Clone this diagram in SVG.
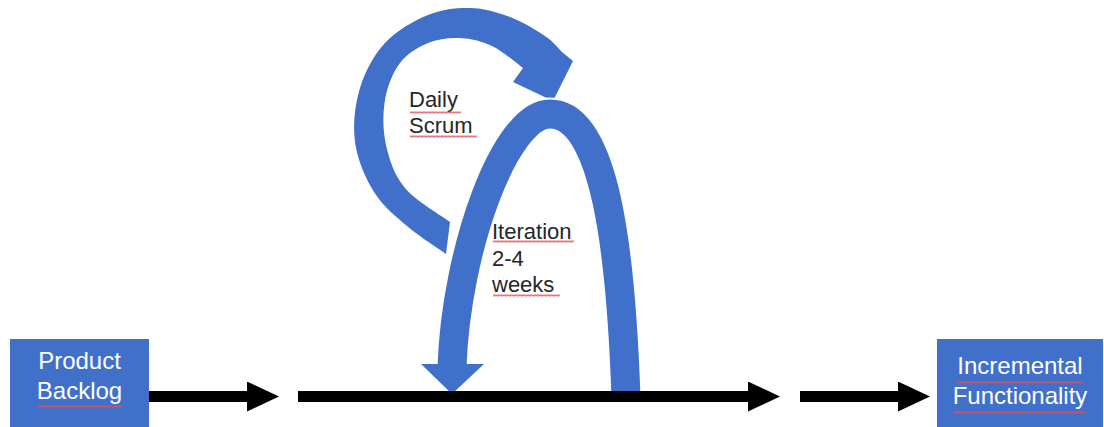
<svg xmlns="http://www.w3.org/2000/svg" width="1104" height="427" viewBox="0 0 1104 427">
  <defs>
    <style>
      .box { fill: #4170CA; }
      .blue { fill: #4170CA; }
      .label-w { font-family: "Liberation Sans", Arial, sans-serif; font-size: 24px; fill: #ffffff; text-anchor: middle; }
      .label-d { font-family: "Liberation Sans", Arial, sans-serif; font-size: 22px; fill: #262626; }
      .flow { stroke: #000000; stroke-width: 11; fill: none; }
      .squig { fill: url(#squiggle); }
    </style>
    <marker id="head" markerUnits="userSpaceOnUse" markerWidth="33" markerHeight="31" refX="2" refY="15" orient="auto">
      <path d="M0,0 L32,15 L0,30 Z" fill="#000000"/>
    </marker>
    <!-- spell-check wave used under words -->
    <pattern id="squiggle" patternUnits="userSpaceOnUse" width="4" height="3">
      <path d="M0,2.5 L1,0.5 L2,2.5 L3,0.5 L4,2.5" fill="none" stroke="#e0505a" stroke-width="0.8"/>
    </pattern>
  </defs>

  <rect width="1104" height="427" fill="#ffffff"/>

  <!-- Daily Scrum circular arrow -->
  <g id="daily-scrum">
    <path class="blue" d="M446,254
      C439.5,249.3 419,236.3 407,226
      C395,215.7 382.7,206 374,192
      C365.3,178 357.3,159.3 355,142
      C352.7,124.7 355,104.5 360,88
      C365,71.5 373.7,55.2 385,43
      C396.3,30.8 413.8,20.8 428,15
      C442.2,9.2 456.3,7.7 470,8
      C483.7,8.3 497.5,12.3 510,17
      C522.5,21.7 536.3,30.2 545,36
      C553.7,41.8 559.2,49.3 562,52
      L573,61 L553,101 L513,82 L523,68
      C517.8,64.3 502.5,51 492,46
      C481.5,41 470.7,38.5 460,38
      C449.3,37.5 438,38.8 428,43
      C418,47.2 407.2,53.5 400,63
      C392.8,72.5 387.3,86.3 385,100
      C382.7,113.7 382.7,130.3 386,145
      C389.3,159.7 394.3,175.2 405,188
      C415.7,200.8 442.5,216.3 450,222 Z"/>
    <text class="label-d" x="409" y="106.5">Daily</text>
    <text class="label-d" x="409" y="132.5">Scrum</text>
    <rect class="squig" x="410" y="111" width="51" height="3"/>
    <rect class="squig" x="410" y="135" width="67" height="3"/>
  </g>

  <!-- Iteration arch -->
  <g id="iteration">
    <path d="M626,398 C621,250 605,114 550,114 C505,114 456,250 452,367" fill="none" stroke="#ffffff" stroke-width="33"/>
    <path d="M626,398 C621,250 605,114 550,114 C505,114 456,250 452,367" fill="none" stroke="#4170CA" stroke-width="29"/>
    <path class="blue" d="M421,364 L484,364 L452,394 Z"/>
    <text class="label-d" x="492" y="239">Iteration</text>
    <text class="label-d" x="492" y="265.5">2-4</text>
    <text class="label-d" x="492" y="292">weeks</text>
    <rect class="squig" x="493" y="240" width="81" height="3"/>
    <rect class="squig" x="493" y="294" width="67" height="3"/>
  </g>

  <!-- Flow connectors -->
  <g id="connectors">
    <line class="flow" x1="149" y1="396.5" x2="249" y2="396.5" marker-end="url(#head)"/>
    <line class="flow" x1="298" y1="396.5" x2="750" y2="396.5" marker-end="url(#head)"/>
    <line class="flow" x1="800" y1="396.5" x2="900" y2="396.5" marker-end="url(#head)"/>
  </g>

  <!-- Product Backlog -->
  <g id="product-backlog">
    <rect class="box" x="10" y="339" width="139" height="88"/>
    <text class="label-w" x="79.5" y="369">Product</text>
    <text class="label-w" x="79.5" y="399">Backlog</text>
    <rect class="squig" x="38" y="405" width="84" height="3"/>
  </g>

  <!-- Incremental Functionality -->
  <g id="incremental-functionality">
    <rect class="box" x="937" y="339" width="166" height="88"/>
    <text class="label-w" x="1020" y="374">Incremental</text>
    <text class="label-w" x="1020" y="404">Functionality</text>
    <rect class="squig" x="957" y="381" width="126" height="3"/>
    <rect class="squig" x="954" y="411" width="131" height="3"/>
  </g>
</svg>
